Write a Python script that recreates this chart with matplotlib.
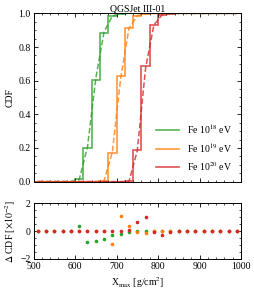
import numpy as np
import matplotlib
matplotlib.use("Agg")
import matplotlib.pyplot as plt
from matplotlib.ticker import MultipleLocator

plt.rcParams['font.family'] = ['Liberation Serif', 'DejaVu Serif']
plt.rcParams['mathtext.fontset'] = 'stix'

# bin edges / centres (g/cm^2)
edges = np.arange(500, 1001, 20)
centres = (edges[:-1] + edges[1:]) / 2

labels = [r"Fe 10$^{18}$ eV", r"Fe 10$^{19}$ eV", r"Fe 10$^{20}$ eV"]
colors = ["#2ca02c", "#ff7f0e", "#d62728"]

# step CDF values per bin (25 bins: 510..990)
cdf_fe18 = [0, 0, 0, 0, 0, 0.015, 0.198, 0.606, 0.885, 0.982, 0.997, 1, 1,
            1, 1, 1, 1, 1, 1, 1, 1, 1, 1, 1, 1]
cdf_fe19 = [0, 0, 0, 0, 0, 0, 0, 0, 0.005, 0.168, 0.626, 0.915, 0.985,
            0.998, 1, 1, 1, 1, 1, 1, 1, 1, 1, 1, 1]
cdf_fe20 = [0, 0, 0, 0, 0, 0, 0, 0, 0, 0, 0, 0.001, 0.19,
            0.685, 0.93, 0.99, 0.998, 1, 1, 1, 1, 1, 1, 1, 1]

# residuals (x 1e-2) at bin centres
res_fe18 = [0, 0, 0, 0, 0, 0.35, -0.75, -0.7, -0.54, -0.3, -0.2, -0.05, 0,
            0, 0, 0, 0, 0, 0, 0, 0, 0, 0, 0, 0]
res_fe19 = [0, 0, 0, 0, 0, 0, 0, 0, 0, -0.96, 1.1, 0.33, -0.1,
            -0.12, 0, 0.02, 0, 0, 0, 0, 0, 0, 0, 0, 0]
res_fe20 = [0, 0, 0, 0, 0, 0, 0, 0, 0, 0, 0, 0.07, 0.63,
            1.0, -0.07, -0.26, -0.1, 0, 0, 0, 0, 0, 0, 0, 0]

cdfs = [cdf_fe18, cdf_fe19, cdf_fe20]
ress = [res_fe18, res_fe19, res_fe20]

fig = plt.figure(figsize=(2.54, 2.91), dpi=100)
ax = fig.add_axes([0.132, 0.376, 0.817, 0.578])
axr = fig.add_axes([0.132, 0.110, 0.817, 0.192])

fs = 7
for c, r, col, lab in zip(cdfs, ress, colors, labels):
    c = np.array(c, dtype=float)
    r = np.array(r, dtype=float)
    ax.stairs(c, edges, baseline=None, color=col, lw=1.2, alpha=0.8, label=lab)
    ax.plot(centres, c - r / 100.0, ls='--', color=col, lw=1.1, alpha=0.8)
    axr.plot(centres, r, 'o', color=col, ms=2.6, mec='none')

ax.set_xlim(500, 1000)
ax.set_ylim(0, 1)
axr.set_xlim(500, 1000)
axr.set_ylim(-2, 2)

for a in (ax, axr):
    a.tick_params(which='both', direction='in', top=True, right=True, labelsize=fs, pad=2)
    a.tick_params(which='major', length=3, width=0.6)
    a.tick_params(which='minor', length=1.6, width=0.5)
    a.xaxis.set_major_locator(MultipleLocator(100))
    a.xaxis.set_minor_locator(MultipleLocator(20))
    for s in a.spines.values():
        s.set_linewidth(0.7)

ax.yaxis.set_minor_locator(MultipleLocator(0.05))
ax.set_yticks([0, 0.2, 0.4, 0.6, 0.8, 1.0])
ax.set_yticklabels(["0.0", "0.2", "0.4", "0.6", "0.8", "1.0"])
ax.tick_params(labelbottom=False)
axr.yaxis.set_major_locator(MultipleLocator(2))
axr.yaxis.set_minor_locator(MultipleLocator(0.5))

ax.set_title("QGSJet III-01", fontsize=fs, pad=1.5)
ax.set_ylabel("CDF", fontsize=fs, labelpad=3)
axr.set_ylabel(r"$\Delta$ CDF [$\times 10^{-2}$]", fontsize=fs, labelpad=2)
axr.set_xlabel(r"X$_{\rm max}$ [g/cm$^2$]", fontsize=fs, labelpad=3)

ax.legend(loc='lower right', fontsize=fs, frameon=False, handlelength=2.4,
          handletextpad=0.8, labelspacing=0.55, borderaxespad=0.5,
          bbox_to_anchor=(1.0, 0.0))

fig.savefig("out.png", dpi=100)
